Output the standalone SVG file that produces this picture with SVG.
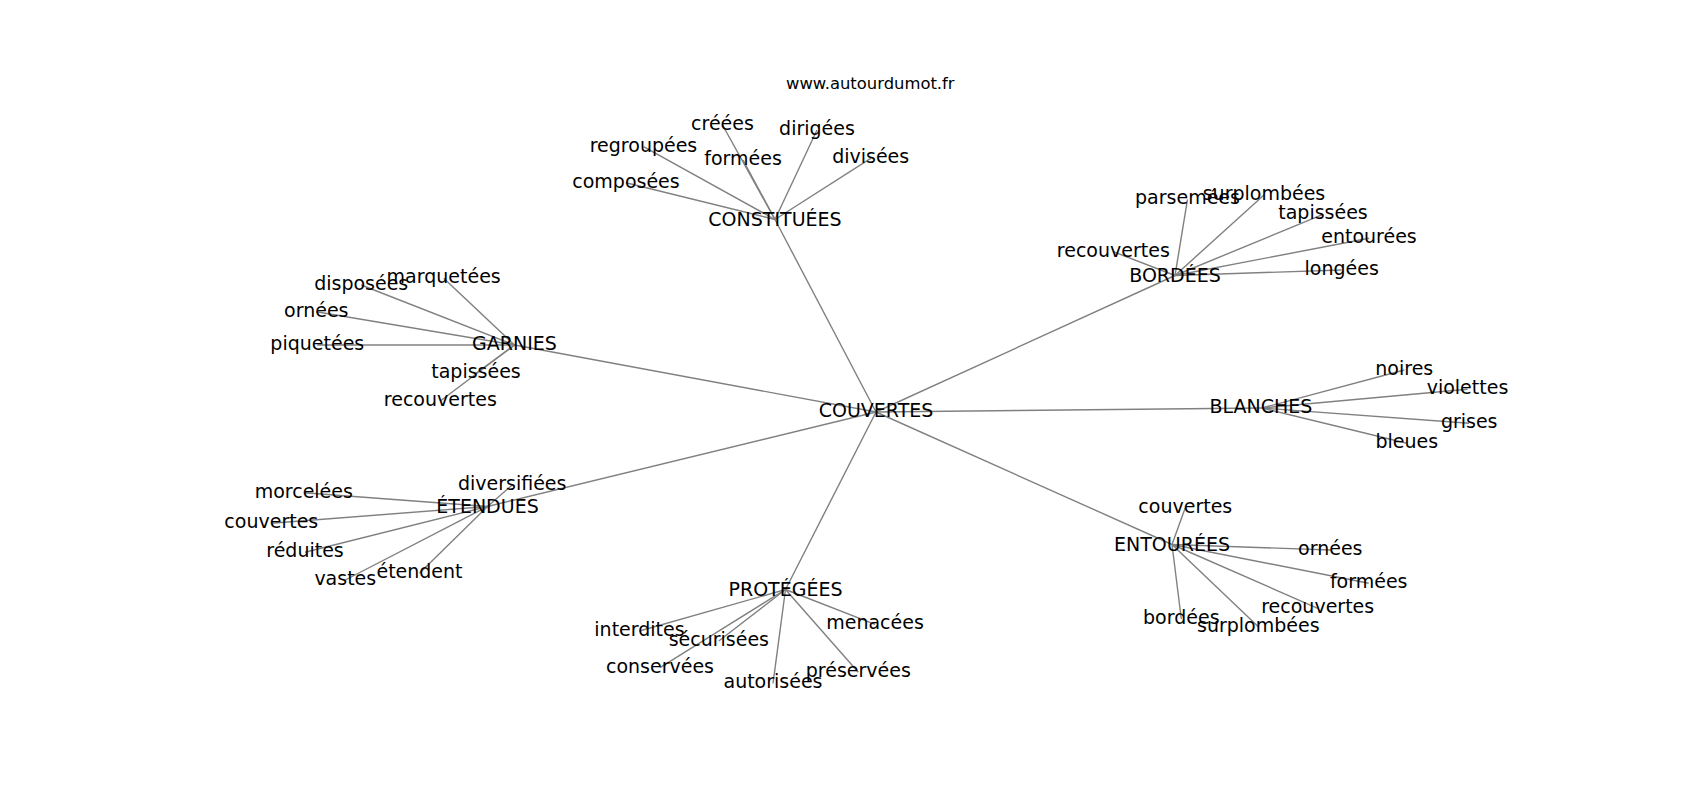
<svg xmlns="http://www.w3.org/2000/svg" width="1700" height="800" viewBox="0 0 1700 800">
<style>
.e{stroke:#808080;stroke-width:1.4;fill:none}
text{font-family:"DejaVu Sans","Liberation Sans",sans-serif;fill:#000;text-anchor:middle}
.n{font-size:19px}
.t{font-size:16.4px}
</style>
<rect width="1700" height="800" fill="#fff"/>
<g id="connectors">
<!-- hub edges -->
<line class="e" x1="876" y1="412" x2="775" y2="219.5"/>
<line class="e" x1="876" y1="412" x2="1175" y2="275.5"/>
<line class="e" x1="876" y1="412" x2="514.5" y2="345"/>
<line class="e" x1="876" y1="412" x2="487.5" y2="506.5"/>
<line class="e" x1="876" y1="412" x2="785.5" y2="589.5"/>
<line class="e" x1="876" y1="412" x2="1172" y2="544.5"/>
<line class="e" x1="876" y1="412" x2="1262" y2="408"/>
<!-- CONSTITUÉES -->
<line class="e" x1="775" y1="219.5" x2="722.5" y2="125"/>
<line class="e" x1="775" y1="219.5" x2="817" y2="130"/>
<line class="e" x1="775" y1="219.5" x2="643.5" y2="146.7"/>
<line class="e" x1="775" y1="219.5" x2="743" y2="160"/>
<line class="e" x1="775" y1="219.5" x2="870.7" y2="158.3"/>
<line class="e" x1="775" y1="219.5" x2="626" y2="182.7"/>
<!-- BORDÉES -->
<line class="e" x1="1175" y1="275.5" x2="1187.5" y2="199.3"/>
<line class="e" x1="1175" y1="275.5" x2="1264" y2="195"/>
<line class="e" x1="1175" y1="275.5" x2="1323" y2="214.3"/>
<line class="e" x1="1175" y1="275.5" x2="1369" y2="238.3"/>
<line class="e" x1="1175" y1="275.5" x2="1113.3" y2="251.7"/>
<line class="e" x1="1175" y1="275.5" x2="1341.7" y2="270"/>
<!-- GARNIES -->
<line class="e" x1="514.5" y1="345" x2="361.2" y2="285"/>
<line class="e" x1="514.5" y1="345" x2="443.7" y2="278.3"/>
<line class="e" x1="514.5" y1="345" x2="316.3" y2="311.7"/>
<line class="e" x1="514.5" y1="345" x2="317.3" y2="345"/>
<line class="e" x1="514.5" y1="345" x2="476" y2="373.3"/>
<line class="e" x1="514.5" y1="345" x2="440.3" y2="401"/>
<!-- ÉTENDUES -->
<line class="e" x1="487.5" y1="506.5" x2="512.2" y2="485"/>
<line class="e" x1="487.5" y1="506.5" x2="303.8" y2="492.7"/>
<line class="e" x1="487.5" y1="506.5" x2="271.3" y2="523.3"/>
<line class="e" x1="487.5" y1="506.5" x2="305" y2="552.3"/>
<line class="e" x1="487.5" y1="506.5" x2="345.3" y2="580"/>
<line class="e" x1="487.5" y1="506.5" x2="419.5" y2="573.3"/>
<!-- PROTÉGÉES -->
<line class="e" x1="785.5" y1="589.5" x2="639.5" y2="631"/>
<line class="e" x1="785.5" y1="589.5" x2="875" y2="624.3"/>
<line class="e" x1="785.5" y1="589.5" x2="718.8" y2="641"/>
<line class="e" x1="785.5" y1="589.5" x2="660" y2="667.7"/>
<line class="e" x1="785.5" y1="589.5" x2="858.3" y2="672.3"/>
<line class="e" x1="785.5" y1="589.5" x2="773" y2="683.3"/>
<!-- ENTOURÉES -->
<line class="e" x1="1172" y1="544.5" x2="1185.3" y2="507.7"/>
<line class="e" x1="1172" y1="544.5" x2="1330.3" y2="550"/>
<line class="e" x1="1172" y1="544.5" x2="1368.7" y2="583.3"/>
<line class="e" x1="1172" y1="544.5" x2="1317.7" y2="608.3"/>
<line class="e" x1="1172" y1="544.5" x2="1181.3" y2="619"/>
<line class="e" x1="1172" y1="544.5" x2="1258.3" y2="626.7"/>
<!-- BLANCHES -->
<line class="e" x1="1262" y1="408" x2="1404.3" y2="370"/>
<line class="e" x1="1262" y1="408" x2="1467.5" y2="389.3"/>
<line class="e" x1="1262" y1="408" x2="1469.2" y2="423.3"/>
<line class="e" x1="1262" y1="408" x2="1406.8" y2="443.3"/>
</g>
<text class="t" x="870.3" y="89">www.autourdumot.fr</text>
<g id="n-couvertes"><text class="n" x="876" y="417">COUVERTES</text></g>
<g id="n-constituees"><text class="n" x="775" y="226">CONSTITUÉES</text></g>
<g id="n-bordees"><text class="n" x="1175" y="282">BORDÉES</text></g>
<g id="n-garnies"><text class="n" x="514.5" y="350">GARNIES</text></g>
<g id="n-etendues"><text class="n" x="487.5" y="513">ÉTENDUES</text></g>
<g id="n-protegees"><text class="n" x="785.5" y="596">PROTÉGÉES</text></g>
<g id="n-entourees"><text class="n" x="1172" y="551">ENTOURÉES</text></g>
<g id="n-blanches"><text class="n" x="1261" y="413">BLANCHES</text></g>

<g id="n-creees"><text class="n" x="722.5" y="130">créées</text></g>
<g id="n-dirigees"><text class="n" x="817" y="135">dirigées</text></g>
<g id="n-regroupees"><text class="n" x="643.5" y="151.7">regroupées</text></g>
<g id="n-formees1"><text class="n" x="743" y="165">formées</text></g>
<g id="n-divisees"><text class="n" x="870.7" y="163.3">divisées</text></g>
<g id="n-composees"><text class="n" x="626" y="187.7">composées</text></g>

<g id="n-parsemees"><text class="n" x="1187.5" y="204.3">parsemées</text></g>
<g id="n-surplombees1"><text class="n" x="1264" y="200">surplombées</text></g>
<g id="n-tapissees1"><text class="n" x="1323" y="219.3">tapissées</text></g>
<g id="n-entourees-l"><text class="n" x="1369" y="243.3">entourées</text></g>
<g id="n-recouvertes1"><text class="n" x="1113.3" y="256.7">recouvertes</text></g>
<g id="n-longees"><text class="n" x="1341.7" y="275">longées</text></g>

<g id="n-disposees"><text class="n" x="361.2" y="290">disposées</text></g>
<g id="n-marquetees"><text class="n" x="443.7" y="283.3">marquetées</text></g>
<g id="n-ornees1"><text class="n" x="316.3" y="316.7">ornées</text></g>
<g id="n-piquetees"><text class="n" x="317.3" y="350">piquetées</text></g>
<g id="n-tapissees2"><text class="n" x="476" y="378.3">tapissées</text></g>
<g id="n-recouvertes2"><text class="n" x="440.3" y="406">recouvertes</text></g>

<g id="n-diversifiees"><text class="n" x="512.2" y="490">diversifiées</text></g>
<g id="n-morcelees"><text class="n" x="303.8" y="497.7">morcelées</text></g>
<g id="n-couvertes1"><text class="n" x="271.3" y="528.3">couvertes</text></g>
<g id="n-reduites"><text class="n" x="305" y="557.3">réduites</text></g>
<g id="n-vastes"><text class="n" x="345.3" y="585">vastes</text></g>
<g id="n-etendent"><text class="n" x="419.5" y="578.3">étendent</text></g>

<g id="n-interdites"><text class="n" x="639.5" y="636">interdites</text></g>
<g id="n-menacees"><text class="n" x="875" y="629.3">menacées</text></g>
<g id="n-securisees"><text class="n" x="718.8" y="646">sécurisées</text></g>
<g id="n-conservees"><text class="n" x="660" y="672.7">conservées</text></g>
<g id="n-preservees"><text class="n" x="858.3" y="677.3">préservées</text></g>
<g id="n-autorisees"><text class="n" x="773" y="688.3">autorisées</text></g>

<g id="n-couvertes2"><text class="n" x="1185.3" y="512.7">couvertes</text></g>
<g id="n-ornees2"><text class="n" x="1330.3" y="555">ornées</text></g>
<g id="n-formees2"><text class="n" x="1368.7" y="588.3">formées</text></g>
<g id="n-recouvertes3"><text class="n" x="1317.7" y="613.3">recouvertes</text></g>
<g id="n-bordees-l"><text class="n" x="1181.3" y="624">bordées</text></g>
<g id="n-surplombees2"><text class="n" x="1258.3" y="631.7">surplombées</text></g>

<g id="n-noires"><text class="n" x="1404.3" y="375">noires</text></g>
<g id="n-violettes"><text class="n" x="1467.5" y="394.3">violettes</text></g>
<g id="n-grises"><text class="n" x="1469.2" y="428.3">grises</text></g>
<g id="n-bleues"><text class="n" x="1406.8" y="448.3">bleues</text></g>
</svg>
